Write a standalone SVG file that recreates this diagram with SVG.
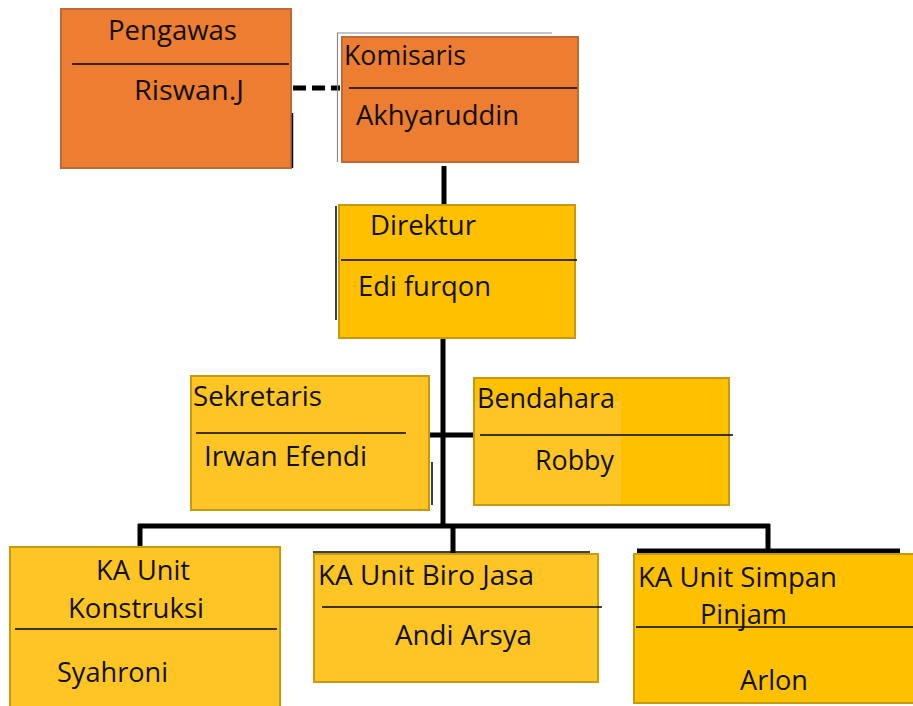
<svg xmlns="http://www.w3.org/2000/svg" width="913" height="706" viewBox="0 0 913 706">
<style>
.orange{fill:#ED7D31;stroke:#BE6A36;stroke-width:2}
.yellow{fill:#FFC000;stroke:#C59A0E;stroke-width:2}
.ylight{fill:#FEC524;stroke:#C59A0E;stroke-width:2}
.div{stroke:#000;stroke-width:1.3}
.t{font-family:"Open Sans","Noto Sans",sans-serif;font-size:27px;fill:#111}
.con{stroke:#000;stroke-width:5;fill:none}
.thin{stroke:#000;stroke-width:1.5}
.gray{stroke:#8a8a8a;stroke-width:1.2;fill:none}
</style>
<rect width="913" height="706" fill="#fff"/>
<g id="connectors">
<line class="con" x1="293" y1="88" x2="340" y2="88" stroke-dasharray="13,6" stroke-width="6"/>
<line class="con" x1="444" y1="166" x2="444" y2="206"/>
<line class="con" x1="443" y1="338" x2="443" y2="528"/>
<line class="con" x1="430" y1="435" x2="474" y2="435" stroke-width="4"/>
<line class="con" x1="138" y1="526" x2="770" y2="526"/>
<line class="con" x1="140" y1="524" x2="140" y2="547"/>
<line class="con" x1="453" y1="524" x2="453" y2="553"/>
<line class="con" x1="768" y1="524" x2="768" y2="553"/>
</g>
<g id="pengawas">
<rect class="orange" x="61" y="9" width="230" height="159"/>
<line class="div" x1="72" y1="64" x2="289" y2="64"/>
<line class="thin" x1="292.5" y1="113" x2="292.5" y2="168"/>
<text class="t" x="108" y="40" textLength="129" lengthAdjust="spacingAndGlyphs">Pengawas</text>
<text class="t" x="134" y="100" textLength="110" lengthAdjust="spacingAndGlyphs">Riswan.J</text>
</g>
<g id="komisaris">
<polyline class="gray" points="337.5,162 337.5,33 552,33"/>
<rect class="orange" x="342" y="37" width="236" height="125" stroke="#F0A070" stroke-width="1"/>
<line class="div" x1="349" y1="88" x2="577" y2="88"/>
<text class="t" x="344" y="65" textLength="122" lengthAdjust="spacingAndGlyphs">Komisaris</text>
<text class="t" x="356" y="125" textLength="163" lengthAdjust="spacingAndGlyphs">Akhyaruddin</text>
</g>
<g id="direktur">
<line class="thin" x1="336" y1="206" x2="336" y2="320"/>
<rect class="yellow" x="339" y="205" width="236" height="133"/>
<line class="div" x1="341" y1="260" x2="577" y2="260"/>
<text class="t" x="370" y="235" textLength="106" lengthAdjust="spacingAndGlyphs">Direktur</text>
<text class="t" x="358" y="296" textLength="133" lengthAdjust="spacingAndGlyphs">Edi furqon</text>
</g>
<g id="sekretaris">
<rect class="ylight" x="191" y="376" width="238" height="134"/>
<line class="div" x1="196" y1="433" x2="406" y2="433"/>
<line class="thin" x1="432" y1="462" x2="432" y2="505"/>
<text class="t" x="193" y="406" textLength="129" lengthAdjust="spacingAndGlyphs">Sekretaris</text>
<text class="t" x="204" y="466" textLength="163" lengthAdjust="spacingAndGlyphs">Irwan Efendi</text>
</g>
<g id="bendahara">
<rect class="yellow" x="474" y="378" width="255" height="127"/>
<rect x="475" y="401" width="146" height="103" fill="#FEC524"/>
<line class="div" x1="480" y1="435" x2="733" y2="435"/>
<text class="t" x="477" y="408" textLength="138" lengthAdjust="spacingAndGlyphs">Bendahara</text>
<text class="t" x="535" y="470" textLength="79" lengthAdjust="spacingAndGlyphs">Robby</text>
</g>
<g id="konstruksi">
<rect class="ylight" x="10" y="547" width="270" height="162"/>
<line class="div" x1="15" y1="629" x2="277" y2="629"/>
<text class="t" x="96" y="580" textLength="94" lengthAdjust="spacingAndGlyphs">KA Unit</text>
<text class="t" x="68" y="618" textLength="136" lengthAdjust="spacingAndGlyphs">Konstruksi</text>
<text class="t" x="57" y="682" textLength="111" lengthAdjust="spacingAndGlyphs">Syahroni</text>
</g>
<g id="birojasa">
<line class="thin" x1="313" y1="552" x2="590" y2="552"/>
<rect class="ylight" x="314" y="554" width="284" height="128"/>
<line class="div" x1="322" y1="607" x2="602" y2="607"/>
<text class="t" x="318" y="585" textLength="216" lengthAdjust="spacingAndGlyphs">KA Unit Biro Jasa</text>
<text class="t" x="395" y="645" textLength="137" lengthAdjust="spacingAndGlyphs">Andi Arsya</text>
</g>
<g id="simpanpinjam">
<line class="con" x1="637" y1="551" x2="900" y2="551" stroke-width="3"/>
<rect class="yellow" x="634" y="554" width="281" height="149"/>
<line class="div" x1="636" y1="627" x2="913" y2="627"/>
<text class="t" x="638" y="587" textLength="199" lengthAdjust="spacingAndGlyphs">KA Unit Simpan</text>
<text class="t" x="700" y="624" textLength="87" lengthAdjust="spacingAndGlyphs">Pinjam</text>
<text class="t" x="740" y="690" textLength="68" lengthAdjust="spacingAndGlyphs">Arlon</text>
</g>
</svg>
